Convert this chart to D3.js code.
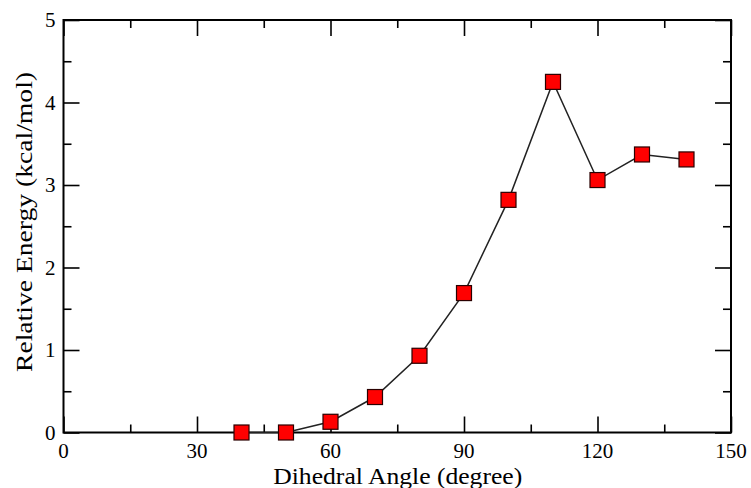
<!DOCTYPE html>
<html>
<head>
<meta charset="utf-8">
<script src="https://cdn.jsdelivr.net/npm/d3@7"></script>
<style>
  html, body { margin: 0; padding: 0; background: #fff; }
  svg { display: block; }
  text { font-family: "Liberation Serif", "DejaVu Serif", serif; fill: #000; }
</style>
</head>
<body>
<svg id="chart" width="751" height="488"></svg>
<script>
// Relative energy scan over the dihedral angle
const angles = [40, 50, 60, 70, 80, 90, 100, 110, 120, 130, 140];
const energies = [0.00, 0.00, 0.13, 0.43, 0.93, 1.69, 2.82, 4.25, 3.06, 3.37, 3.31];

const xMajorTicks = [0, 30, 60, 90, 120, 150];
const xMinorTicks = [15, 45, 75, 105, 135];
const yMajorTicks = [0, 1, 2, 3, 4, 5];
const yMinorTicks = [0.5, 1.5, 2.5, 3.5, 4.5];

const xTitle = "Dihedral Angle (degree)";
const yTitle = "Relative Energy (kcal/mol)";

(function () {
  const svg = d3.select("#chart");
  const plotLeft = 63.5, plotRight = 731, plotTop = 20, plotBottom = 432.5;

  const x = d3.scaleLinear().domain([0, 150]).range([plotLeft, plotRight]);
  const y = d3.scaleLinear().domain([0, 5]).range([plotBottom, plotTop]);

  const majorLen = 16, minorLen = 8;
  const fontSize = 21;
  const titleSize = 23;

  // Tick marks on all four sides, pointing inward
  function drawTicks(axisGen, transform) {
    const g = svg.append("g").attr("transform", transform).call(axisGen);
    g.select(".domain").remove();
    g.selectAll("line").attr("stroke", "#000").attr("stroke-width", 1.6);
    g.selectAll("text").remove();
    return g;
  }

  drawTicks(d3.axisBottom(x).tickValues(xMajorTicks).tickSize(-majorLen), `translate(0,${plotBottom})`);
  drawTicks(d3.axisBottom(x).tickValues(xMinorTicks).tickSize(-minorLen), `translate(0,${plotBottom})`);
  drawTicks(d3.axisTop(x).tickValues(xMajorTicks).tickSize(-majorLen), `translate(0,${plotTop})`);
  drawTicks(d3.axisTop(x).tickValues(xMinorTicks).tickSize(-minorLen), `translate(0,${plotTop})`);
  drawTicks(d3.axisLeft(y).tickValues(yMajorTicks).tickSize(-majorLen), `translate(${plotLeft},0)`);
  drawTicks(d3.axisLeft(y).tickValues(yMinorTicks).tickSize(-minorLen), `translate(${plotLeft},0)`);
  drawTicks(d3.axisRight(y).tickValues(yMajorTicks).tickSize(-majorLen), `translate(${plotRight},0)`);
  drawTicks(d3.axisRight(y).tickValues(yMinorTicks).tickSize(-minorLen), `translate(${plotRight},0)`);

  // Frame
  svg.append("rect")
    .attr("x", plotLeft).attr("y", plotTop)
    .attr("width", plotRight - plotLeft).attr("height", plotBottom - plotTop)
    .attr("fill", "none").attr("stroke", "#000").attr("stroke-width", 2);

  // Tick labels
  svg.append("g").selectAll("text").data(xMajorTicks).join("text")
    .attr("x", d => x(d)).attr("y", plotBottom + 25)
    .attr("text-anchor", "middle").attr("font-size", fontSize)
    .text(d => d);

  svg.append("g").selectAll("text").data(yMajorTicks).join("text")
    .attr("x", plotLeft - 8).attr("y", d => y(d) + 7)
    .attr("text-anchor", "end").attr("font-size", fontSize)
    .text(d => d);

  // Axis titles (wide set, as in the original plot)
  svg.append("text")
    .attr("x", (plotLeft + plotRight) / 2 + 0.5).attr("y", 484)
    .attr("text-anchor", "middle").attr("font-size", titleSize)
    .attr("textLength", 249).attr("lengthAdjust", "spacingAndGlyphs")
    .text(xTitle);

  svg.append("text")
    .attr("transform", `translate(32,222) rotate(-90)`)
    .attr("text-anchor", "middle").attr("font-size", titleSize)
    .attr("textLength", 300).attr("lengthAdjust", "spacingAndGlyphs")
    .text(yTitle);

  // Connecting line
  const pts = angles.map((a, i) => [a, energies[i]]);
  svg.append("path")
    .datum(pts)
    .attr("fill", "none").attr("stroke", "#222").attr("stroke-width", 1.5)
    .attr("d", d3.line().x(d => x(d[0])).y(d => y(d[1])));

  // Square markers
  const size = 15;
  svg.append("g").selectAll("rect").data(pts).join("rect")
    .attr("x", d => x(d[0]) - size / 2).attr("y", d => y(d[1]) - size / 2)
    .attr("width", size).attr("height", size)
    .attr("fill", "#ff0000").attr("stroke", "#2a0000").attr("stroke-width", 1.2);
})();
</script>
</body>
</html>
